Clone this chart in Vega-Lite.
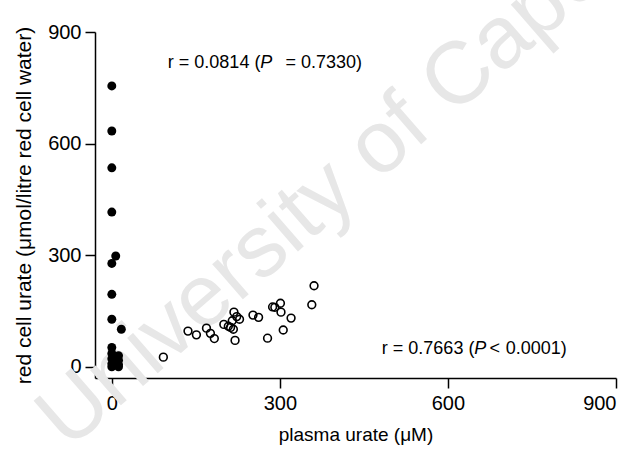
{
  "$schema": "https://vega.github.io/schema/vega-lite/v6.json",
  "autosize": "none",
  "width": 521,
  "height": 346,
  "padding": {"left": 95, "top": 32, "right": 21, "bottom": 74},
  "background": "white",
  "config": {
    "view": {"stroke": null},
    "font": "Liberation Sans",
    "axis": {
      "grid": false,
      "domainColor": "black",
      "domainWidth": 1.5,
      "tickColor": "black",
      "tickWidth": 1.5,
      "tickSize": 10,
      "labelColor": "black",
      "labelFont": "Liberation Sans",
      "labelFontSize": 20,
      "titleColor": "black",
      "titleFont": "Liberation Sans",
      "titleFontSize": 19,
      "titleFontWeight": "normal"
    }
  },
  "datasets": {
    "pts": [
      {"plasma": 0, "redcell": 755, "group": "filled"},
      {"plasma": 0, "redcell": 634, "group": "filled"},
      {"plasma": 0, "redcell": 535, "group": "filled"},
      {"plasma": 0, "redcell": 416, "group": "filled"},
      {"plasma": 7, "redcell": 298, "group": "filled"},
      {"plasma": 0, "redcell": 278, "group": "filled"},
      {"plasma": 0, "redcell": 195, "group": "filled"},
      {"plasma": 0, "redcell": 128, "group": "filled"},
      {"plasma": 17, "redcell": 101, "group": "filled"},
      {"plasma": 0, "redcell": 52, "group": "filled"},
      {"plasma": 0, "redcell": 36, "group": "filled"},
      {"plasma": 12, "redcell": 30, "group": "filled"},
      {"plasma": 0, "redcell": 22, "group": "filled"},
      {"plasma": 12, "redcell": 18, "group": "filled"},
      {"plasma": 0, "redcell": 8, "group": "filled"},
      {"plasma": 12, "redcell": 6, "group": "filled"},
      {"plasma": 0, "redcell": 0, "group": "filled"},
      {"plasma": 12, "redcell": 0, "group": "filled"},
      {"plasma": 92, "redcell": 26, "group": "open"},
      {"plasma": 136, "redcell": 96, "group": "open"},
      {"plasma": 151, "redcell": 86, "group": "open"},
      {"plasma": 169, "redcell": 104, "group": "open"},
      {"plasma": 176, "redcell": 90, "group": "open"},
      {"plasma": 183, "redcell": 76, "group": "open"},
      {"plasma": 200, "redcell": 114, "group": "open"},
      {"plasma": 208, "redcell": 109, "group": "open"},
      {"plasma": 212, "redcell": 106, "group": "open"},
      {"plasma": 217, "redcell": 101, "group": "open"},
      {"plasma": 215, "redcell": 124, "group": "open"},
      {"plasma": 218, "redcell": 147, "group": "open"},
      {"plasma": 223, "redcell": 135, "group": "open"},
      {"plasma": 228, "redcell": 128, "group": "open"},
      {"plasma": 220, "redcell": 71, "group": "open"},
      {"plasma": 252, "redcell": 139, "group": "open"},
      {"plasma": 262, "redcell": 133, "group": "open"},
      {"plasma": 278, "redcell": 77, "group": "open"},
      {"plasma": 287, "redcell": 161, "group": "open"},
      {"plasma": 291, "redcell": 160, "group": "open"},
      {"plasma": 301, "redcell": 171, "group": "open"},
      {"plasma": 302, "redcell": 147, "group": "open"},
      {"plasma": 306, "redcell": 99, "group": "open"},
      {"plasma": 320, "redcell": 131, "group": "open"},
      {"plasma": 357, "redcell": 167, "group": "open"},
      {"plasma": 361, "redcell": 218, "group": "open"}
    ],
    "one": [{}]
  },
  "layer": [
    {
      "data": {"name": "one"},
      "mark": {"type": "text", "text": "University of Cape Town", "fontSize": 88, "color": "#e7e7e7", "angle": -41, "align": "center", "baseline": "middle", "font": "Liberation Sans"},
      "encoding": {
        "x": {"datum": 530, "type": "quantitative", "scale": {"domain": [-30, 900], "nice": false, "zero": false}},
        "y": {"datum": 662, "type": "quantitative", "scale": {"domain": [-30, 900], "nice": false, "zero": false}}
      }
    },
    {
      "data": {"name": "pts"},
      "transform": [{"filter": "datum.group === 'filled'"}],
      "mark": {"type": "circle", "size": 80, "color": "black", "opacity": 1},
      "encoding": {
        "x": {"field": "plasma", "type": "quantitative", "scale": {"domain": [-30, 900], "nice": false, "zero": false},
              "axis": {"values": [0, 300, 600, 900], "title": "plasma urate (μM)", "labelPadding": 5, "titlePadding": 12}},
        "y": {"field": "redcell", "type": "quantitative", "scale": {"domain": [-30, 900], "nice": false, "zero": false},
              "axis": {"values": [0, 300, 600, 900], "title": "red cell urate (μmol/litre red cell water)", "labelPadding": 4, "titlePadding": 13, "titleFontSize": 21}}
      }
    },
    {
      "data": {"name": "pts"},
      "transform": [{"filter": "datum.group === 'open'"}],
      "mark": {"type": "point", "shape": "circle", "size": 60, "filled": false, "stroke": "black", "strokeWidth": 1.6, "opacity": 1},
      "encoding": {
        "x": {"field": "plasma", "type": "quantitative"},
        "y": {"field": "redcell", "type": "quantitative"}
      }
    },
    {
      "data": {"name": "one"},
      "mark": {"type": "text", "text": "r = 0.0814 (", "fontSize": 18, "align": "left", "baseline": "middle", "color": "black"},
      "encoding": {"x": {"datum": 100, "type": "quantitative"}, "y": {"datum": 817, "type": "quantitative"}}
    },
    {
      "data": {"name": "one"},
      "mark": {"type": "text", "text": "P", "fontSize": 18, "fontStyle": "italic", "align": "left", "baseline": "middle", "color": "black"},
      "encoding": {"x": {"datum": 265, "type": "quantitative"}, "y": {"datum": 817, "type": "quantitative"}}
    },
    {
      "data": {"name": "one"},
      "mark": {"type": "text", "text": "= 0.7330)", "fontSize": 18, "align": "left", "baseline": "middle", "color": "black"},
      "encoding": {"x": {"datum": 310, "type": "quantitative"}, "y": {"datum": 817, "type": "quantitative"}}
    },
    {
      "data": {"name": "one"},
      "mark": {"type": "text", "text": "r = 0.7663 (", "fontSize": 18, "align": "left", "baseline": "middle", "color": "black"},
      "encoding": {"x": {"datum": 482, "type": "quantitative"}, "y": {"datum": 49, "type": "quantitative"}}
    },
    {
      "data": {"name": "one"},
      "mark": {"type": "text", "text": "P", "fontSize": 18, "fontStyle": "italic", "align": "left", "baseline": "middle", "color": "black"},
      "encoding": {"x": {"datum": 647, "type": "quantitative"}, "y": {"datum": 49, "type": "quantitative"}}
    },
    {
      "data": {"name": "one"},
      "mark": {"type": "text", "text": "<", "fontSize": 18, "align": "left", "baseline": "middle", "color": "black"},
      "encoding": {"x": {"datum": 674, "type": "quantitative"}, "y": {"datum": 49, "type": "quantitative"}}
    },
    {
      "data": {"name": "one"},
      "mark": {"type": "text", "text": "0.0001)", "fontSize": 18, "align": "left", "baseline": "middle", "color": "black"},
      "encoding": {"x": {"datum": 703, "type": "quantitative"}, "y": {"datum": 49, "type": "quantitative"}}
    }
  ]
}
